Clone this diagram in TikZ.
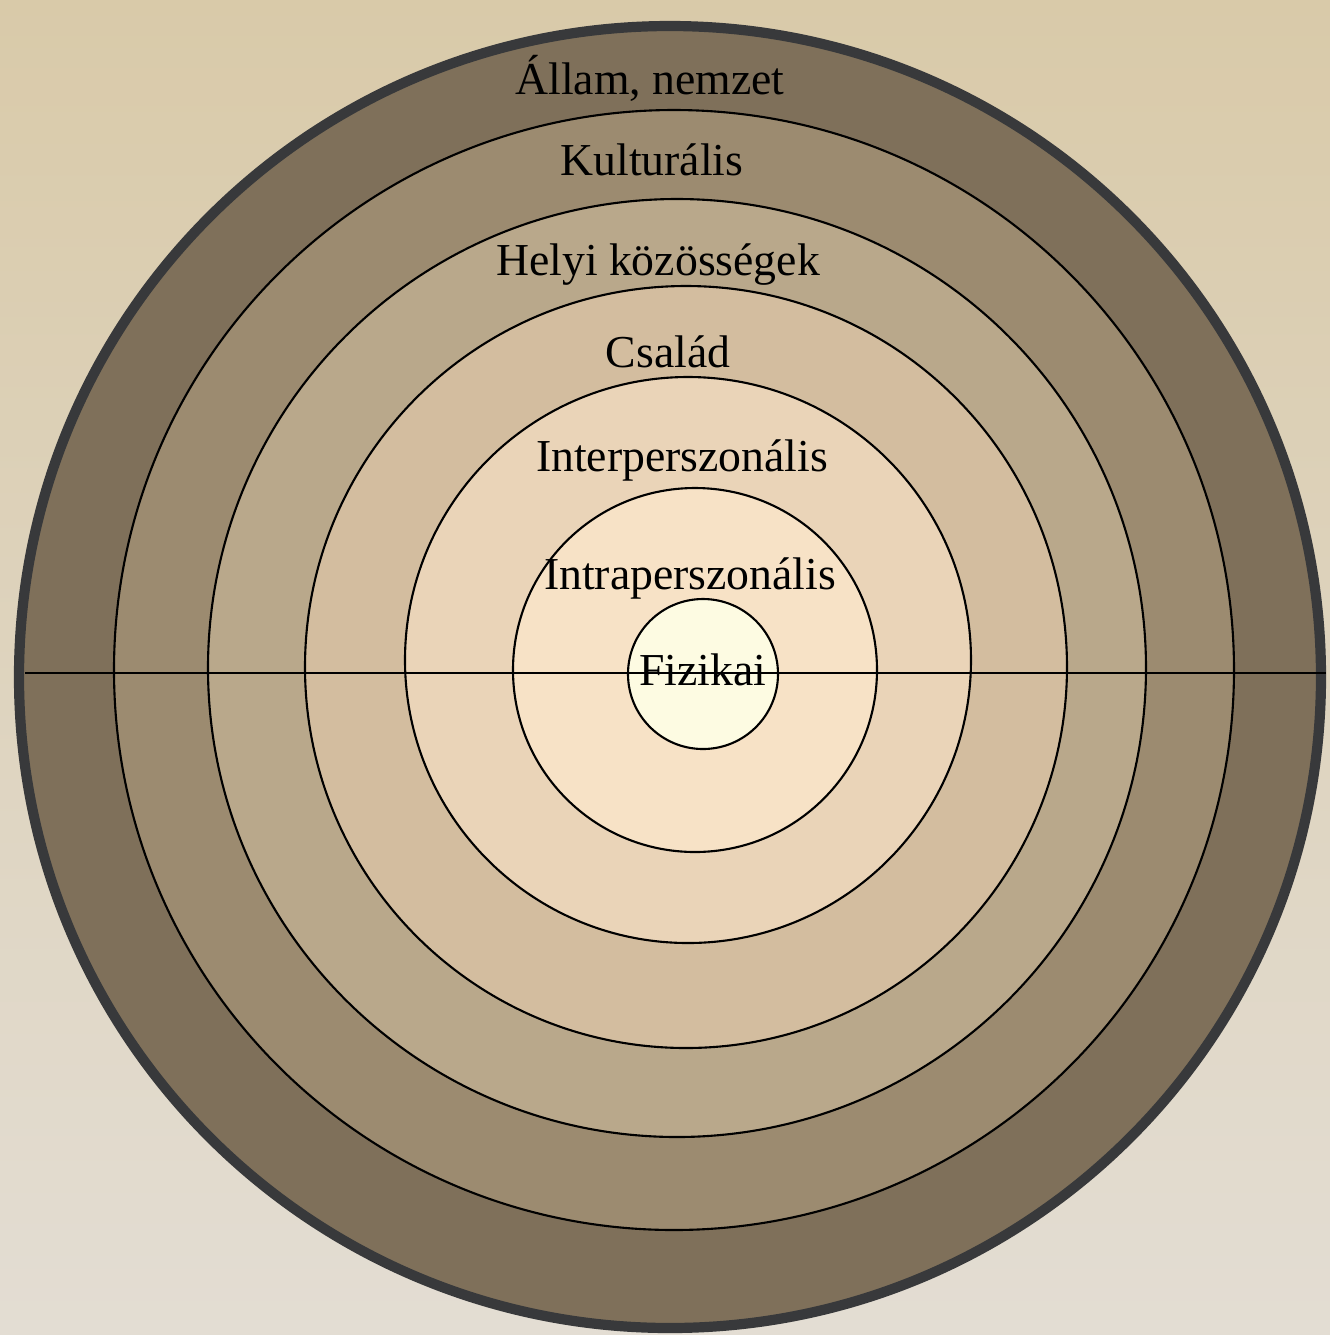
\documentclass[tikz,border=0pt]{standalone}
\usepackage{fontspec}
\setmainfont{Liberation Serif}
\usepackage{xcolor}
\usetikzlibrary{positioning}
\definecolor{bgtop}{HTML}{D9CAA9}
\definecolor{bgbottom}{HTML}{E3DDD3}
\definecolor{rimgray}{HTML}{38393B}
\definecolor{ringA}{HTML}{7F705A}
\definecolor{ringB}{HTML}{9C8B70}
\definecolor{ringC}{HTML}{B9A88B}
\definecolor{ringD}{HTML}{D3BD9F}
\definecolor{ringE}{HTML}{EAD4B8}
\definecolor{ringF}{HTML}{F7E2C6}
\definecolor{coreyellow}{HTML}{FDFBE2}
\tikzset{
  ringline/.style={draw=black,line width=0.6pt},
  ringlabel/.style={font=\fontsize{13}{15}\selectfont,text=black,inner sep=0pt,anchor=center},
}

\begin{document}
\begin{tikzpicture}[x=0.01cm,y=-0.01cm]
    \useasboundingbox (0,0) rectangle (1330,1335);
    \shade[top color=bgtop,bottom color=bgbottom] (0,0) rectangle (1330,1335);
    % rings, outside in
    \fill[ringA,draw=rimgray,line width=2.9pt] (670,677) circle[radius=651];
    \foreach \cx/\cy/\r/\col in {674/670/560/ringB, 677/668/469/ringC, 686/667/381/ringD,
                                 688/660/283/ringE, 695/670/182/ringF, 703/674/75/coreyellow}
      \filldraw[ringline,fill=\col] (\cx,\cy) circle[radius=\r];
    \coordinate (west) at (25,673);
    \coordinate (east) at (1326,673);
    \draw[ringline] (west) -- (east);
    \node[ringlabel] (allam) at (650,78) {Állam, nemzet};
    \node[ringlabel] (kult) at (652,160) {Kulturális};
    \node[ringlabel] (helyi) at (658,265) {Helyi közösségek};
    \node[ringlabel] (csalad) at (668,352) {Család};
    \node[ringlabel] (inter) at (682,460) {Interperszonális};
    \node[ringlabel] (intra) at (690,578) {Intraperszonális};
    \node[ringlabel] (fiz) at (703,670) {Fizikai};
  \end{tikzpicture}
\end{document}
